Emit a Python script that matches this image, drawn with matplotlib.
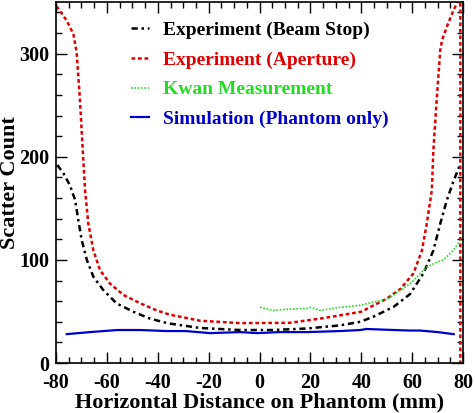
import numpy as np
import matplotlib.pyplot as plt
from matplotlib.ticker import MultipleLocator

# beam stop experiment
bs_x = [-79.5, -77.1, -74.5, -72.5, -71.2, -69.9, -67.9, -65.3, -61.4, -56.2,
        -49.6, -43, -35.8, -23.4, -7.7, 5, 18.7, 31.6, 39.6, 44.8, 52.7,
        59.2, 64.4, 68.3, 71, 73.6, 76.3, 78.9]
bs_y = [192, 184, 172, 158, 138, 119, 100, 83.5, 70.7, 57.8,
        49.7, 43, 38.4, 34, 32, 32, 33.5, 36.5, 40, 45, 54.5,
        67, 87, 109, 135, 158, 177, 193]

# aperture experiment
ap_x = [-79.8, -75.8, -73.2, -71.9, -70.6, -69.5, -68.6, -67.3, -65.3, -62.7,
        -58.8, -53.5, -47, -40.4, -35.5, -23.4, -7.7, 12, 25, 39.9, 50.1,
        55.4, 60.5, 63.8, 65.7, 67.7, 68.3, 69.6, 71, 71.7, 73.6, 76.2, 78,
        78.9, 78.9]
ap_y = [346, 332, 319, 301, 255, 206, 167.5, 135, 109, 90,
        77, 66, 58, 51, 47, 41, 38.7, 39, 43.5, 49.7, 62.6,
        72, 87, 109, 135, 167.5, 206, 255, 303, 313, 326, 342, 351,
        351, 0]

# Kwan measurement
kw_x = [0.2, 5.3, 10, 18.7, 20, 23.8, 31.6, 39.6, 44.6, 50, 59.2, 65.7,
        69, 72.3, 76, 78.9]
kw_y = [54, 51, 52, 53, 54, 51, 54, 56, 59, 61.6, 77, 93,
        97, 100, 109, 119]

# simulation (phantom only)
sim_x = [-75.8, -66.6, -56, -47, -36.4, -29, -19.5, -7.7, -1, 8, 18.7, 31.6,
         39.6, 42, 53, 59.2, 63, 70, 76.3]
sim_y = [28, 30, 32, 32, 31, 31, 29, 30, 29, 30, 30, 31,
         32, 33, 32, 31.5, 31.5, 30, 28]

plt.rcParams['font.family'] = ['Liberation Serif', 'DejaVu Serif']
plt.rcParams['font.weight'] = 'bold'
plt.rcParams['axes.unicode_minus'] = False

fig = plt.figure(figsize=(4.75, 4.13), dpi=100)
ax = fig.add_axes([0.118, 0.121, 0.857, 0.874])

ax.plot(bs_x, bs_y, color='black', lw=1.8, ls=(0, (2.5, 1.5, 1, 1.5)),
        label='Experiment (Beam Stop)')
ax.plot(ap_x, ap_y, color='#e00000', lw=1.8, ls=(0, (1.5, 1.1)),
        label='Experiment (Aperture)')
ax.plot(kw_x, kw_y, color='#22dd22', lw=1.2, ls=(0, (1, 1)),
        label='Kwan Measurement')
ax.plot(sim_x, sim_y, color='#0000cc', lw=1.6,
        label='Simulation (Phantom only)')

ax.set_xlim(-80, 80)
ax.set_ylim(0, 350)
ax.xaxis.set_major_locator(MultipleLocator(20))
ax.xaxis.set_minor_locator(MultipleLocator(5))
ax.yaxis.set_major_locator(MultipleLocator(100))
ax.yaxis.set_minor_locator(MultipleLocator(20))
ax.tick_params(which='both', direction='in', top=True, right=True,
               labelsize=14.5, width=1)
ax.tick_params(which='major', length=8)
ax.tick_params(which='minor', length=4)
ax.tick_params(axis='x', pad=7)
ax.tick_params(axis='y', pad=5)
for s in ax.spines.values():
    s.set_linewidth(1.2)

ax.set_xlabel('Horizontal Distance on Phantom (mm)', fontsize=16,
              fontweight='bold', labelpad=0)
ax.set_ylabel('Scatter Count', fontsize=16, fontweight='bold', va='center')
ax.yaxis.set_label_coords(-0.112, 0.5)

leg = ax.legend(loc='upper center', bbox_to_anchor=(0.5, 0.995),
                frameon=False, fontsize=14, handlelength=0.95,
                labelspacing=0.62, handletextpad=0.7)
for txt, line in zip(leg.get_texts(), leg.get_lines()):
    txt.set_color(line.get_color())

fig.savefig('out.png', dpi=100)
